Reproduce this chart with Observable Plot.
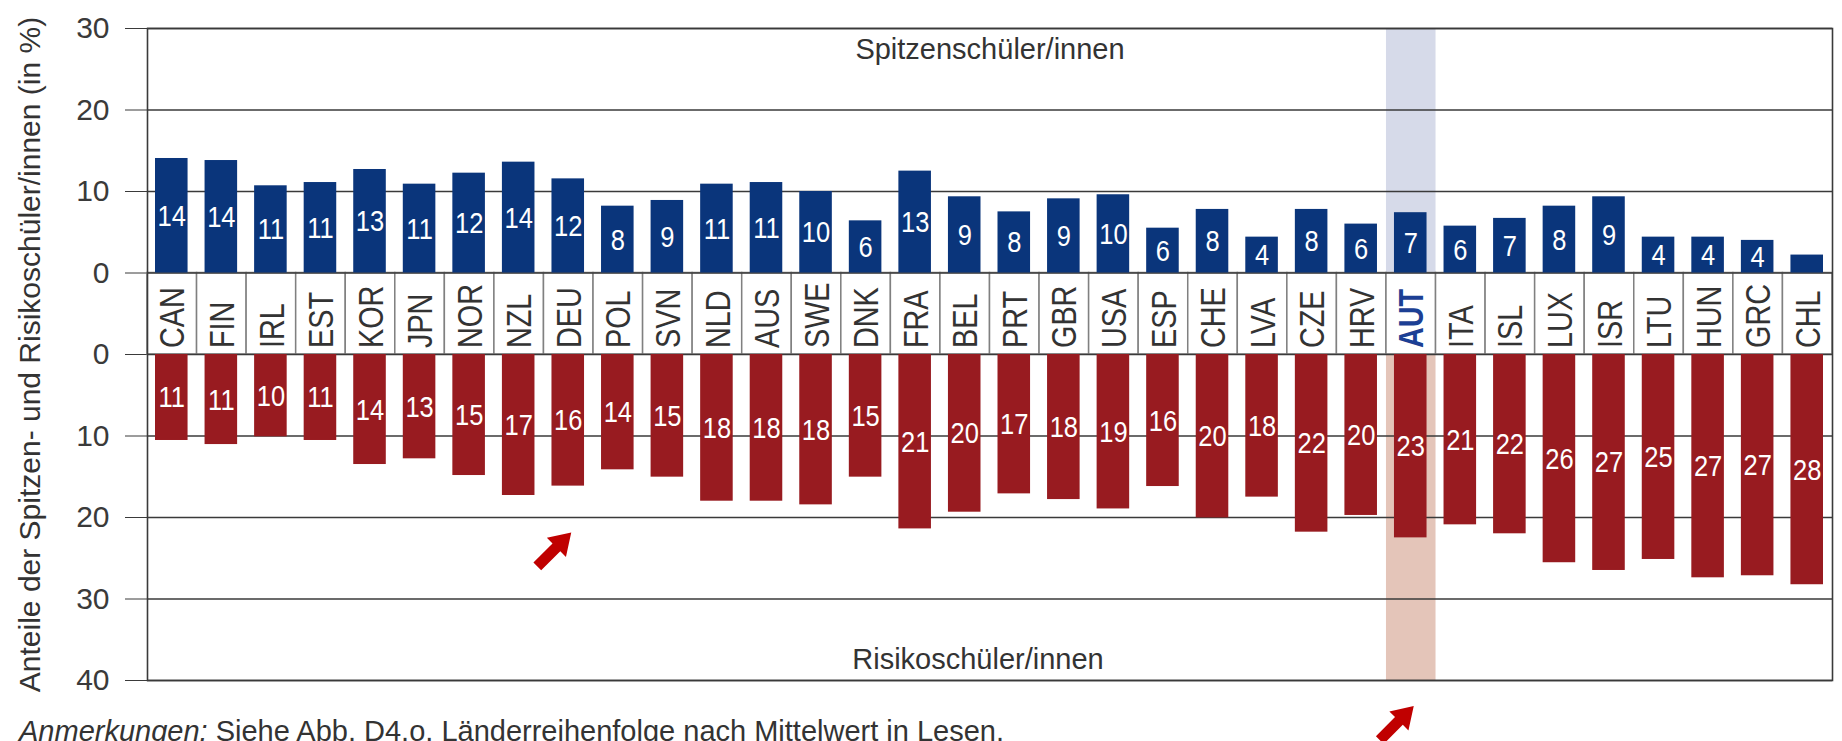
<!DOCTYPE html>
<html><head><meta charset="utf-8">
<script src="https://cdn.jsdelivr.net/npm/d3@7"></script>
<script src="https://cdn.jsdelivr.net/npm/@observablehq/plot@0.6"></script>
<style>
html,body{margin:0;padding:0;background:#fff;overflow:hidden;}
#chart{width:1842px;}
.caption{font-family:"Liberation Sans",Arial,Helvetica,sans-serif;font-size:29px;line-height:1.2;color:#333;margin:0 0 0 19px;white-space:nowrap;}
</style></head><body>
<div id="chart"></div>
<div class="caption"><i>Anmerkungen:</i> Siehe Abb. D4.o. Länderreihenfolge nach Mittelwert in Lesen.</div>
<script>
const countries = ["CAN","FIN","IRL","EST","KOR","JPN","NOR","NZL","DEU","POL","SVN","NLD","AUS","SWE","DNK","FRA","BEL","PRT","GBR","USA","ESP","CHE","LVA","CZE","HRV","AUT","ITA","ISL","LUX","ISR","LTU","HUN","GRC","CHL"];
const topValues = [14.05,13.8,10.7,11.1,12.7,10.9,12.25,13.6,11.55,8.2,8.9,10.9,11.1,10.0,6.4,12.5,9.35,7.5,9.1,9.6,5.5,7.8,4.4,7.8,6.0,7.4,5.75,6.7,8.2,9.35,4.4,4.4,4.0,2.2];
const topLabels = [14,14,11,11,13,11,12,14,12,8,9,11,11,10,6,13,9,8,9,10,6,8,4,8,6,7,6,7,8,9,4,4,4,null];
const bottomValues = [10.55,11.05,10.1,10.55,13.5,12.8,14.85,17.3,16.15,14.15,15.05,18.0,18.0,18.45,15.05,21.4,19.35,17.1,17.8,18.95,16.2,20.05,17.5,21.8,19.75,22.5,20.9,22.0,25.55,26.5,25.15,27.4,27.15,28.25];
const bottomLabels = [11,11,10,11,14,13,15,17,16,14,15,18,18,18,15,21,20,17,18,19,16,20,18,22,20,23,21,22,26,27,25,27,27,28];
const yTicks = [30,20,10,0,-10,-20,-30,-40,-50];
const labelBand = 10;            // height of the country label strip, in axis units
const highlightCountry = "AUT";
const topTitle = "Spitzenschüler/innen";
const bottomTitle = "Risikoschüler/innen";
const yTitle = "Anteile der Spitzen- und Risikoschüler/innen (in %)";
const arrowCountries = ["DEU","AUT"];
const arrowYs = [-31.9,-53.2];

const BLUE = "#0a357b", RED = "#981b20", GRID = "#3a3a3a", TXT = "#333";
const SANS = "'Liberation Sans',Arial,Helvetica,sans-serif";

const rows = countries.map((c, i) => ({
  country: c, top: topValues[i], topLabel: topLabels[i],
  bottom: bottomValues[i], bottomLabel: bottomLabels[i]
}));
const hl = rows.filter(d => d.country === highlightCountry);

function bandCenter(scales, c) {
  const bw = scales.x.bandwidth ? scales.x.bandwidth() : 0;
  return scales.x(c) + bw / 2;
}

// value labels and country labels in a condensed (narrow Helvetica-like) rendering
function narrowLabels(index, scales) {
  const g = d3.create("svg:g").attr("font-family", SANS);
  rows.forEach(d => {
    const x = bandCenter(scales, d.country);
    if (d.topLabel != null) {
      g.append("text").attr("transform", `translate(${x},${scales.y(d.top / 2)}) scale(0.85,1)`)
        .attr("text-anchor", "middle").attr("dy", "0.35em").attr("font-size", 30).attr("fill", "white")
        .text(String(d.topLabel));
    }
    g.append("text").attr("transform", `translate(${x},${scales.y(-labelBand - d.bottom / 2)}) scale(0.85,1)`)
      .attr("text-anchor", "middle").attr("dy", "0.35em").attr("font-size", 30).attr("fill", "white")
      .text(String(d.bottomLabel));
    const isHl = d.country === highlightCountry;
    g.append("text").attr("transform", `translate(${x},${scales.y(-labelBand) - 6}) rotate(-90) scale(0.8,1)`)
      .attr("text-anchor", "start").attr("dy", "0.35em").attr("font-size", 36)
      .attr("font-weight", isHl ? "bold" : "normal").attr("fill", isHl ? "#1c3f94" : TXT)
      .text(d.country);
  });
  return g.node();
}

function arrows(index, scales) {
  const g = d3.create("svg:g");
  arrowCountries.forEach((c, i) => {
    const x = bandCenter(scales, c) + 3, y = scales.y(arrowYs[i]);
    g.append("path")
      .attr("d", "M0,0 L-21,-13.5 L-21,-5.5 L-48,-5.5 L-48,5.5 L-21,5.5 L-21,13.5 Z")
      .attr("transform", `translate(${x},${y}) rotate(-45)`)
      .attr("fill", "#c00000");
  });
  return g.node();
}

const chart = Plot.plot({
  width: 1842,
  height: 714,
  marginLeft: 147,
  marginRight: 10,
  marginTop: 28,
  marginBottom: 34,
  style: {overflow: "visible", fontFamily: SANS, fontSize: "30px", color: GRID, background: "white"},
  x: {type: "band", domain: countries, padding: 0, round: false, axis: null},
  y: {domain: [-50, 30], ticks: yTicks, tickSize: 22, tickPadding: 16,
      tickFormat: d => d >= 0 ? String(d) : String(-(d + labelBand)), label: null},
  marks: [
    // highlight column
    Plot.barY(hl, {x: "country", y1: 0, y2: 30, fill: "#d6dae9"}),
    Plot.barY(hl, {x: "country", y1: -labelBand, y2: -50, fill: "#e4c5b9"}),
    // label strip cells
    Plot.barY(rows, {x: "country", y1: 0, y2: -labelBand, fill: "white", stroke: "#808080", strokeWidth: 1.5}),
    // grid
    Plot.ruleY(yTicks, {stroke: GRID, strokeWidth: 1.6}),
    // bars
    Plot.barY(rows, {x: "country", y1: 0, y2: "top", fill: BLUE, insetLeft: 8, insetRight: 9}),
    Plot.barY(rows, {x: "country", y1: -labelBand, y2: d => -labelBand - d.bottom, fill: RED, insetLeft: 8, insetRight: 9}),
    narrowLabels,
    // panel titles
    Plot.text([topTitle], {frameAnchor: "top", lineAnchor: "middle", dy: 21, fill: TXT, fontSize: 29, fontFamily: SANS}),
    Plot.text([bottomTitle], {frameAnchor: "bottom", lineAnchor: "middle", dy: -21, dx: -12, fill: TXT, fontSize: 29, fontFamily: SANS}),
    // y title
    Plot.text([yTitle], {frameAnchor: "left", rotate: -90, textAnchor: "middle", lineAnchor: "middle", dx: -117, fill: TXT, fontSize: 30, fontFamily: SANS}),
    Plot.frame({stroke: GRID, strokeWidth: 1.6}),
    arrows
  ]
});
document.getElementById("chart").appendChild(chart);
</script>
</body></html>
